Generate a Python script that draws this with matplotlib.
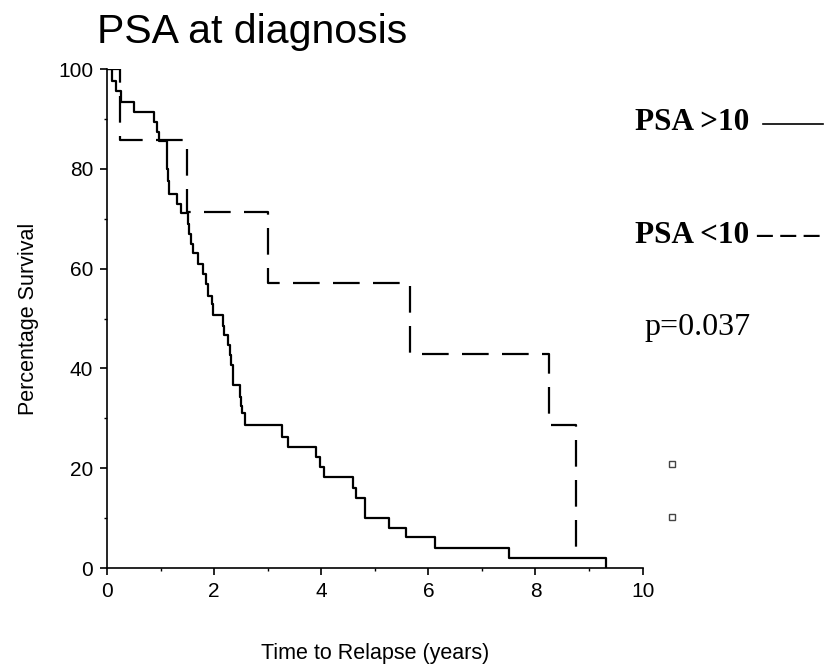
import matplotlib
matplotlib.use("Agg")
import matplotlib.pyplot as plt
from matplotlib.lines import Line2D
from matplotlib.ticker import MultipleLocator

plt.rcParams['font.family'] = ['Liberation Sans', 'DejaVu Sans']

# PSA >10 (solid): step times (years) and survival (%) after each step
t_high = [0.0, 0.10, 0.16, 0.27, 0.50, 0.88, 0.93, 0.97, 1.12, 1.13, 1.14, 1.16,
          1.30, 1.38, 1.51, 1.53, 1.56, 1.60, 1.70, 1.79, 1.84, 1.88, 1.96, 1.98,
          2.17, 2.19, 2.26, 2.30, 2.31, 2.35, 2.36, 2.48, 2.51, 2.53, 2.57, 3.26,
          3.38, 3.91, 3.98, 4.05, 4.59, 4.64, 4.81, 5.26, 5.58, 6.12, 7.50, 9.31]
s_high = [100, 97.6, 95.6, 93.4, 91.5, 89.4, 87.4, 85.6, 83.2, 80.0, 77.5, 75.0,
          73.0, 71.1, 69.0, 67.0, 65.0, 63.2, 61.0, 59.0, 57.0, 54.5, 53.0, 50.7,
          48.5, 46.8, 44.7, 42.7, 40.7, 38.7, 36.7, 34.3, 32.5, 31.0, 28.7, 26.3,
          24.3, 22.2, 20.3, 18.3, 16.1, 14.1, 10.0, 8.0, 6.2, 4.0, 2.0, 0.0]

# PSA <10 (dashed)
t_low = [0.0, 0.24, 1.49, 3.00, 5.65, 8.25, 8.75]
s_low = [100, 85.7, 71.4, 57.1, 42.9, 28.6, 2.0]

x_ticks = [0, 2, 4, 6, 8, 10]
y_ticks = [0, 20, 40, 60, 80, 100]

# stray open squares at the right of the plot
sq_x = [10.54, 10.54]
sq_y = [20.8, 10.2]

fig = plt.figure(figsize=(8.26, 6.71), dpi=100)
ax = fig.add_axes([0.1295, 0.1535, 0.6485, 0.7435])

ax.step(t_high, s_high, where='post', color='black', lw=1.6)
ax.step(t_low, s_low, where='post', color='black', lw=1.6, dashes=(12, 6))
ax.plot(sq_x, sq_y, 's', ms=5, mfc='white', mec='#444444', mew=1, clip_on=False)

ax.set_xlim(0, 10)
ax.set_ylim(0, 100)
ax.set_xticks(x_ticks)
ax.set_yticks(y_ticks)
ax.xaxis.set_minor_locator(MultipleLocator(1))
ax.yaxis.set_minor_locator(MultipleLocator(10))
ax.tick_params(which='major', length=5, width=1.2, labelsize=15, pad=5, direction='out')
ax.tick_params(which='minor', length=2.5, width=1)
for s in ['top', 'right']:
    ax.spines[s].set_visible(False)
for s in ['left', 'bottom']:
    ax.spines[s].set_linewidth(1.2)

ax.set_xlabel('Time to Relapse (years)', fontsize=15.5, labelpad=30)
ax.set_ylabel('Percentage Survival', fontsize=15.5, labelpad=14)

fig.text(0.118, 0.952, 'PSA at diagnosis', fontsize=29.5, ha='left', va='center')

serif = ['Liberation Serif', 'DejaVu Serif']
fig.text(0.769, 0.817, 'PSA >10', family=serif, fontweight='bold', fontsize=22.5,
         ha='left', va='center')
fig.add_artist(Line2D([0.924, 0.996], [0.815, 0.815], color='black', lw=1.2))
fig.text(0.769, 0.649, 'PSA <10 \u2013 \u2013 \u2013', family=serif, fontweight='bold',
         fontsize=22.5, ha='left', va='center')
fig.text(0.780, 0.512, 'p=0.037', family=serif, fontsize=23, ha='left', va='center')

fig.savefig('out.png', dpi=100)
